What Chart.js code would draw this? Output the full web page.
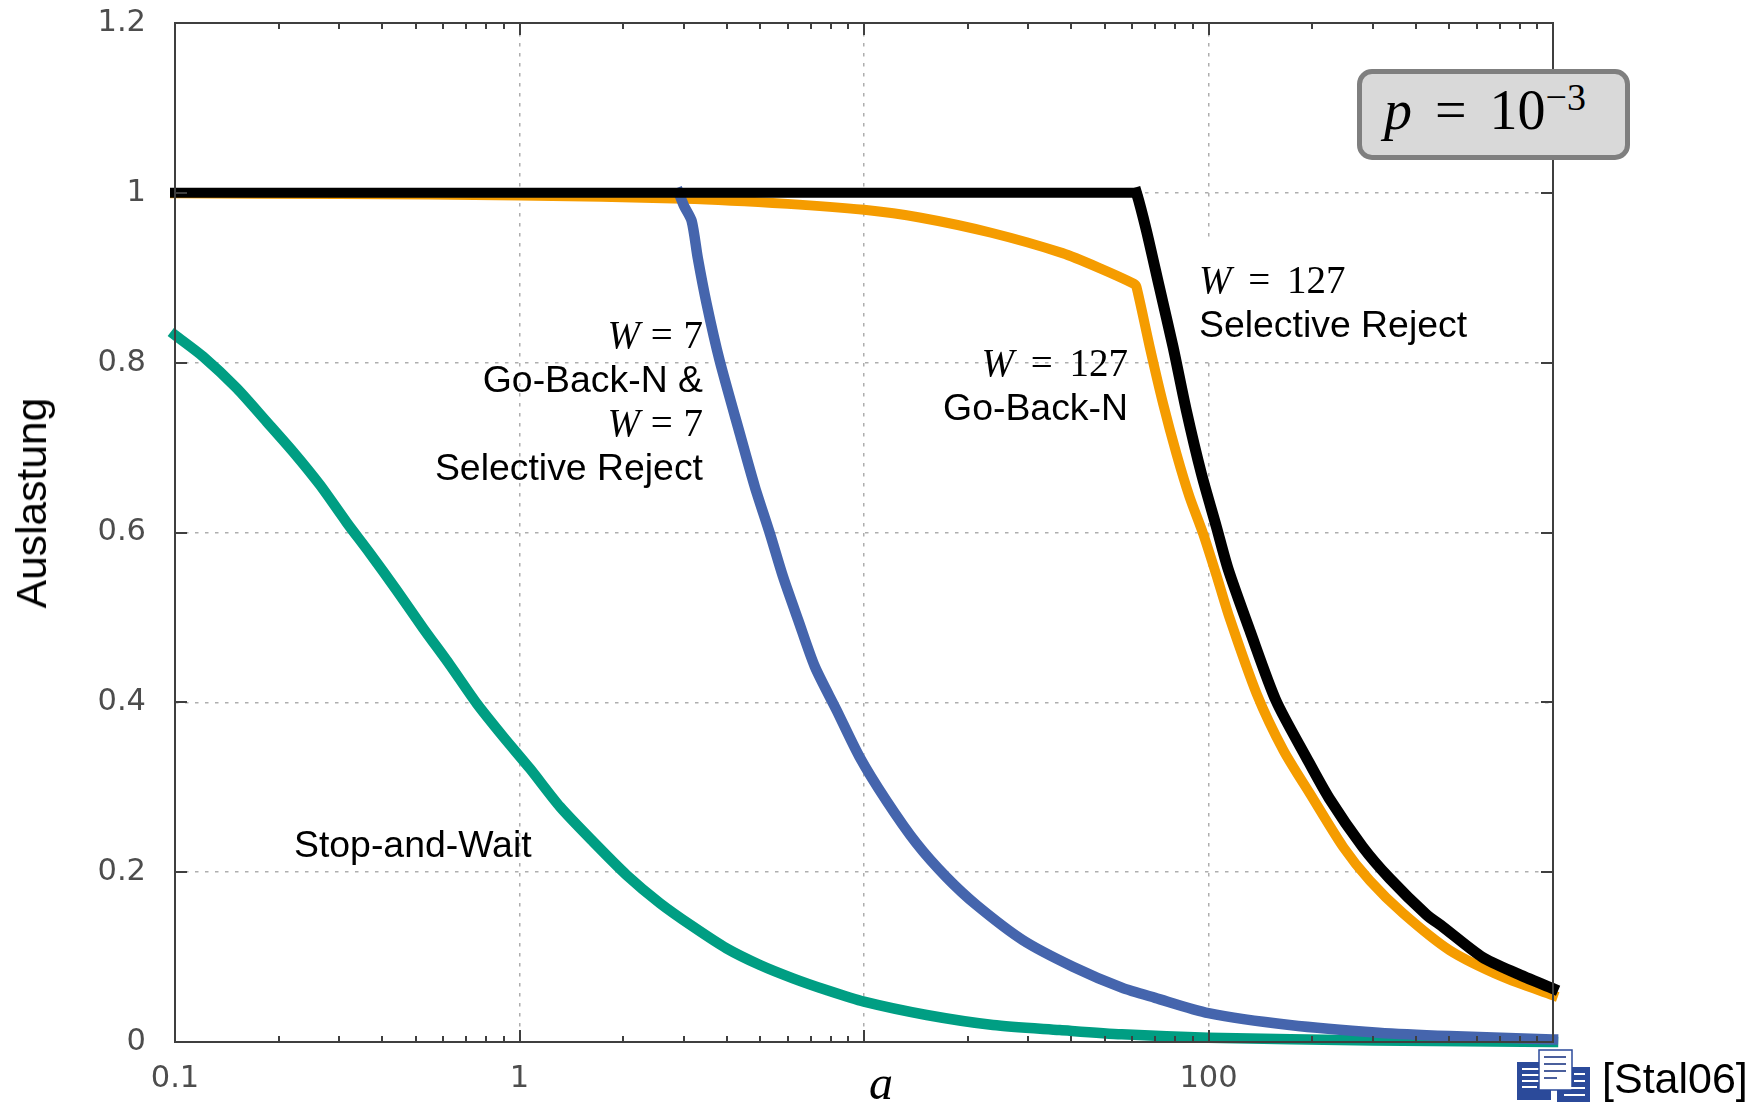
<!DOCTYPE html>
<html>
<head>
<meta charset="utf-8">
<title>Auslastung</title>
<script src="https://cdn.jsdelivr.net/npm/chart.js@4"></script>
<style>
  html, body { margin: 0; padding: 0; background: #fff; }
  #wrap { position: relative; width: 1758px; height: 1102px; overflow: hidden; }
  canvas { position: absolute; left: 0; top: 0; }
  .note { position: absolute; font-family: "Liberation Sans", Arial, sans-serif; font-size: 37.4px; line-height: 44px; color: #000; white-space: nowrap; }
  .math { font-family: "Liberation Serif", serif; font-size: 39px; word-spacing: 1px; }
  .math i { font-style: italic; }
  .right { text-align: right; }
  #ylabel { left: 31px; top: 503px; font-size: 42.6px; transform: translate(-50%, -50%) rotate(-90deg); }
  #xlabel { left: 869px; top: 1056px; font-family: "Liberation Serif", serif; font-style: italic; font-size: 48px; line-height: 54px; }
  #pbox { position: absolute; left: 1357px; top: 69px; width: 263px; height: 81px; background: #d9d9d9; border: 5px solid #7f7f7f; border-radius: 15px; }
  #pbox span.t { position: absolute; left: 22px; top: 5px; font-family: "Liberation Serif", serif; font-size: 56px; line-height: 62px; word-spacing: 9px; color: #000; white-space: nowrap; }
  #pbox sup { font-size: 38px; line-height: 0; position: relative; vertical-align: 19px; }
  #icon { position: absolute; left: 1510px; top: 1045px; }
</style>
</head>
<body>
<div id="wrap">
  <canvas id="chart" width="1758" height="1102"></canvas>

  <div class="note" id="ylabel">Auslastung</div>
  <div class="note" id="xlabel">a</div>

  <div class="note right" style="right:1055px; top:313px;">
    <div class="math"><i>W</i> = 7</div>
    <div>Go-Back-N &amp;</div>
    <div class="math"><i>W</i> = 7</div>
    <div>Selective Reject</div>
  </div>
  <div class="note right" style="right:630px; top:341px;">
    <div class="math" style="word-spacing:7px"><i>W</i> = 127</div>
    <div>Go-Back-N</div>
  </div>
  <!-- white behind this one, it hides the grid line at 100 in the reference -->
  <div class="note" style="left:1198px; top:242px; padding:16px 0 15px 1px; background:#fff;">
    <div class="math" style="word-spacing:7px"><i>W</i> = 127</div>
    <div>Selective Reject</div>
  </div>
  <div class="note" style="left:294px; top:822px;">Stop-and-Wait</div>

  <div id="pbox"><span class="t"><i>p</i> = 10<sup>−3</sup></span></div>

  <svg id="icon" width="88" height="57" viewBox="0 0 88 57">
    <rect x="7" y="17" width="34" height="38" fill="#2b4a9a"/>
    <g stroke="#fff" stroke-width="2">
      <line x1="12" y1="24" x2="35" y2="24"/><line x1="12" y1="30" x2="35" y2="30"/>
      <line x1="12" y1="36" x2="35" y2="36"/><line x1="12" y1="42" x2="27" y2="42"/>
    </g>
    <rect x="47" y="22" width="33" height="35" fill="#2b4a9a"/>
    <rect x="29" y="5" width="33" height="40" fill="#fff" stroke="#2b4a9a" stroke-width="1.5"/>
    <g stroke="#4a5f9c" stroke-width="2">
      <line x1="34" y1="12" x2="56" y2="12"/><line x1="34" y1="19" x2="56" y2="19"/>
      <line x1="34" y1="26" x2="56" y2="26"/><line x1="34" y1="33" x2="47" y2="33"/>
    </g>
    <g stroke="#fff" stroke-width="2">
      <line x1="64" y1="29" x2="75" y2="29"/><line x1="64" y1="36" x2="75" y2="36"/>
      <line x1="54" y1="43" x2="75" y2="43"/><line x1="54" y1="50" x2="75" y2="50"/>
    </g>
  </svg>
  <div class="note" style="left:1602px; top:1056px; font-size:43px;">[Stal06]</div>
</div>

<script>
// values
const xDecades = [0.1, 1, 10, 100, 1000];
const xTickLabels = ['0.1', '1', '', '100', ''];   // 10 and 1000 are covered in the reference
const xMinor = [2, 3, 4, 5, 6, 7, 8, 9];
const yTicks = [0, 0.2, 0.4, 0.6, 0.8, 1, 1.2];

const srA = [0.1, 30, 55, 61.2, 61.8, 66, 72, 78.9, 86.2, 95.4, 105.4, 114, 132, 157, 192, 224, 280, 335, 429, 479, 623, 784, 1000];
const srU = [1, 1, 1, 1, 1, 0.956, 0.889, 0.8187, 0.744, 0.669, 0.6068, 0.557, 0.484, 0.402, 0.3355, 0.287, 0.23, 0.193, 0.15, 0.1356, 0.1, 0.0808, 0.0628];

const gbnA = [0.1, 0.3, 1, 3, 6, 10, 14.5, 23.4, 37.7, 47.9, 60.7, 61.8, 67.5, 73.8, 80.7, 88.1, 96.4, 105.4, 115, 138, 165, 197, 246, 294, 367, 501, 716, 1000];
const gbnU = [0.9995, 0.9985, 0.997, 0.993, 0.987, 0.98, 0.971, 0.953, 0.929, 0.912, 0.893, 0.889, 0.8187, 0.752, 0.693, 0.642, 0.599, 0.55, 0.5, 0.41, 0.3434, 0.2924, 0.2296, 0.19, 0.1515, 0.108, 0.0765, 0.055];

const w7A = [2.9, 3, 3.16, 3.29, 3.49, 3.81, 4.36, 4.82, 5.33, 5.82, 6.44, 7.2, 8.32, 9.7, 11.6, 14.2, 17.3, 21.2, 28.9, 40.4, 56, 70, 100, 172, 312, 500, 1000];
const w7U = [1, 0.985, 0.967, 0.924, 0.87, 0.8025, 0.7166, 0.654, 0.599, 0.548, 0.497, 0.442, 0.391, 0.336, 0.2846, 0.234, 0.1946, 0.1613, 0.12, 0.0887, 0.064, 0.052, 0.034, 0.02, 0.011, 0.007, 0.003];

const swA = [0.1, 0.1208, 0.151, 0.1845, 0.2203, 0.2635, 0.3148, 0.368, 0.4396, 0.5257, 0.628, 0.751, 0.897, 1.072, 1.311, 1.637, 2.046, 2.56, 3.19, 3.99, 4.99, 6.22, 7.78, 10, 15.2, 23.7, 37, 56, 100, 300, 1000];
const swU = [0.8325, 0.807, 0.77, 0.7305, 0.695, 0.656, 0.612, 0.5755, 0.5322, 0.487, 0.444, 0.3988, 0.3595, 0.322, 0.277, 0.2358, 0.1966, 0.1633, 0.1358, 0.1103, 0.0907, 0.075, 0.0612, 0.0475, 0.0318, 0.02, 0.0141, 0.009, 0.005, 0.0017, 0];

function points(xs, ys) {
    return xs.map((x, i) => ({ x: x, y: ys[i] }));
}

function curve(name, xs, ys, color, width) {
    return {
        label: name,
        data: points(xs, ys),
        borderColor: color,
        borderWidth: width,
        borderCapStyle: 'square',
        borderJoinStyle: 'miter',
        pointRadius: 0,
        tension: 0.25,
        clip: false
    };
}

const tickFont = { family: '"DejaVu Sans"', size: 30.5 };
const tickColor = '#4d4d4d';

// frame with inward ticks on all four sides, over the curves like in gnuplot
const framePlugin = {
    id: 'frame',
    afterDatasetsDraw(chart) {
        const { ctx, chartArea: a, scales: { x, y } } = chart;
        ctx.save();
        ctx.strokeStyle = '#3f3f3f';
        ctx.lineWidth = 2;
        ctx.strokeRect(a.left, a.top, a.right - a.left, a.bottom - a.top);
        ctx.beginPath();
        xDecades.forEach((d, i) => {
            const px = Math.round(x.getPixelForValue(d));
            ctx.moveTo(px, a.bottom); ctx.lineTo(px, a.bottom - 12);
            ctx.moveTo(px, a.top); ctx.lineTo(px, a.top + 12);
            if (i === xDecades.length - 1) return;
            xMinor.forEach(m => {
                const mx = Math.round(x.getPixelForValue(d * m));
                ctx.moveTo(mx, a.bottom); ctx.lineTo(mx, a.bottom - 6);
                ctx.moveTo(mx, a.top); ctx.lineTo(mx, a.top + 6);
            });
        });
        yTicks.forEach(v => {
            const py = Math.round(y.getPixelForValue(v));
            ctx.moveTo(a.left, py); ctx.lineTo(a.left + 12, py);
            ctx.moveTo(a.right, py); ctx.lineTo(a.right - 12, py);
        });
        ctx.stroke();
        ctx.restore();
    }
};

const blackLine = curve('W=127 Selective Reject', srA, srU, '#000000', 11);
// the flat part is thinner than the falling part in the reference
blackLine.segment = { borderWidth: c => (c.p0.parsed.y === c.p1.parsed.y ? 10 : 11) };

new Chart(document.getElementById('chart').getContext('2d'), {
    type: 'line',
    data: {
        // first one ends up on top
        datasets: [
            blackLine,
            curve('W=7', w7A, w7U, '#4565ad', 10.5),
            curve('W=127 Go-Back-N', gbnA, gbnU, '#f59c00', 10),
            curve('Stop-and-Wait', swA, swU, '#009e83', 10.5)
        ]
    },
    options: {
        responsive: false,
        animation: false,
        layout: { padding: { top: 23, right: 205, left: 0, bottom: 0 } },
        plugins: { legend: { display: false }, tooltip: { enabled: false } },
        scales: {
            x: {
                type: 'logarithmic',
                min: 0.1,
                max: 1000,
                afterBuildTicks: s => { s.ticks = xDecades.map(v => ({ value: v })); },
                afterFit: s => { s.height = 60; s.paddingLeft = 0; s.paddingRight = 0; },
                border: { display: false, dash: [3.5, 6.5] },
                grid: { color: '#aeaeae', lineWidth: 1.5, drawTicks: false },
                ticks: {
                    autoSkip: false,
                    maxRotation: 0,
                    padding: 19,
                    color: tickColor,
                    font: tickFont,
                    callback: (v, i) => xTickLabels[i]
                }
            },
            y: {
                min: 0,
                max: 1.2,
                afterBuildTicks: s => { s.ticks = yTicks.map(v => ({ value: v })); },
                // the labels would push the plot down otherwise
                afterFit: s => { s.width = 175; s.paddingTop = 0; s.paddingBottom = 0; },
                border: { display: false, dash: [3.5, 6.5] },
                grid: { color: '#aeaeae', lineWidth: 1.5, drawTicks: false },
                ticks: {
                    padding: 29,
                    color: tickColor,
                    font: tickFont,
                    callback: v => String(v)
                }
            }
        }
    },
    plugins: [framePlugin]
});
</script>
</body>
</html>
